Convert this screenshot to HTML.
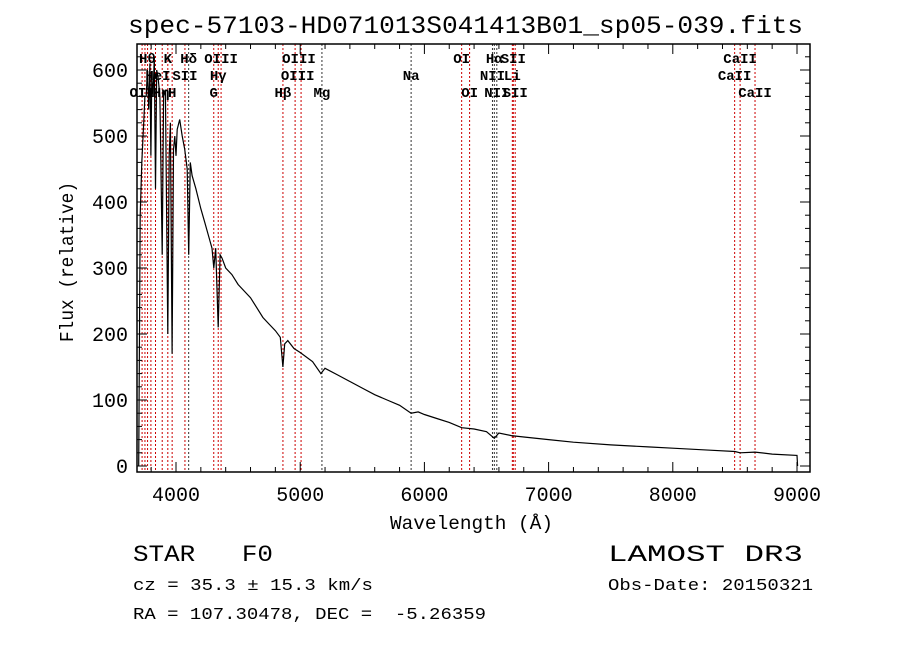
<!DOCTYPE html>
<html><head><meta charset="utf-8"><style>
body{margin:0;background:#fff;}
svg text{font-family:"Liberation Mono",monospace;white-space:pre;}
</style></head><body>
<svg id="c" width="900" height="649" xmlns="http://www.w3.org/2000/svg">
<rect width="900" height="649" fill="#fff"/>
<text x="128" y="33" font-size="25" textLength="675" lengthAdjust="spacingAndGlyphs">spec-57103-HD071013S041413B01_sp05-039.fits</text>
<g id="lines"></g>
<g id="axes"></g>
<path id="spec" fill="none" stroke="#000" stroke-width="1.2"/>
<text x="390" y="529" font-size="19" textLength="163" lengthAdjust="spacingAndGlyphs">Wavelength (Å)</text>
<text transform="translate(73,342) rotate(-90)" font-size="19" textLength="160" lengthAdjust="spacingAndGlyphs">Flux (relative)</text>
<text x="133" y="561" font-size="23" textLength="140" lengthAdjust="spacingAndGlyphs">STAR   F0</text>
<text x="608" y="561" font-size="23" textLength="195" lengthAdjust="spacingAndGlyphs">LAMOST DR3</text>
<text x="133" y="590" font-size="17" textLength="240" lengthAdjust="spacingAndGlyphs">cz = 35.3 ± 15.3 km/s</text>
<text x="608" y="590" font-size="17" textLength="205" lengthAdjust="spacingAndGlyphs">Obs-Date: 20150321</text>
<text x="133" y="619" font-size="17" textLength="353" lengthAdjust="spacingAndGlyphs">RA = 107.30478, DEC =  -5.26359</text>
</svg>
<script>
const waves=[3700,3712,3725,3740,3750,3760,3770,3780,3790,3798,3805,3815,3825,3835,3845,3855,3870,3889,3900,3915,3934,3945,3955,3969,3980,3990,4000,4010,4030,4050,4070,4090,4102,4115,4130,4160,4200,4230,4260,4290,4304,4320,4340,4355,4370,4400,4450,4500,4550,4600,4650,4700,4750,4800,4840,4861,4875,4900,4950,5000,5100,5167,5200,5300,5400,5500,5600,5700,5800,5893,5950,6000,6100,6200,6300,6400,6500,6563,6600,6700,6800,7000,7200,7500,7800,8000,8300,8500,8542,8662,8800,9000,9005];
const flux=[0,380,460,520,560,560,600,540,610,470,590,560,620,420,600,590,560,320,560,570,200,470,520,170,480,500,470,510,525,500,480,450,320,460,440,420,390,370,350,330,300,330,210,320,315,300,290,275,265,255,240,225,215,205,195,150,185,190,178,172,158,140,148,138,128,118,108,100,92,80,82,78,72,66,58,56,52,42,50,46,44,40,36,32,29,27,24,22,20,21,18,16,0];
const lineWaves=[3727,3750,3771,3798,3835,3889,3934,3969,4072,4102,4304,4340,4363,4861,4959,5007,5175,5893,6300,6364,6548,6563,6583,6708,6716,6731,8498,8542,8662];
const lineLabels=[["OII",92,3727],["Hθ",58,3770],["HeI",75,3855],["K",58,3934],["Hη",92,3880],["SII",75,4072],["H",92,3969],["Hδ",58,4102],["OIII",58,4363],["Hγ",75,4340],["G",92,4304],["OIII",58,4990],["OIII",75,4980],["Hβ",92,4861],["Mg",92,5175],["Na",75,5893],["OI",58,6300],["OI",92,6364],["Hα",58,6563],["SII",58,6716],["NII",75,6548],["Li",75,6708],["NII",92,6583],["SII",92,6731],["CaII",58,8542],["CaII",75,8498],["CaII",92,8662]];
const xTicks=[4000,5000,6000,7000,8000,9000];
const yTicks=[0,100,200,300,400,500,600];
const X0=137,X1=810,Y0=44,Y1=472;
const sx=w=>176+(w-4000)*0.1242;
const sy=f=>466-f*0.66;
const NS="http://www.w3.org/2000/svg";
function mk(t,a,p){const e=document.createElementNS(NS,t);for(const k in a)e.setAttribute(k,a[k]);p.appendChild(e);return e;}
const L=document.getElementById('lines'),A=document.getElementById('axes');
lineWaves.forEach(w=>{const e=mk('line',{x1:sx(w),x2:sx(w),y1:Y0,y2:Y1,stroke:(w==5893||w==5175||w==4102||(w>6540&&w<6590))?'#333':'#c00',"stroke-width":1,"stroke-dasharray":"2,2"},L);

});
lineLabels.forEach(l=>{const t=mk('text',{x:sx(l[2]),y:l[1]+5,"font-size":14,"font-weight":"bold","text-anchor":"middle","font-family":"Liberation Serif, serif"},L);t.textContent=l[0];

});
const fr=mk('rect',{x:X0,y:Y0,width:X1-X0,height:Y1-Y0,fill:'none',stroke:'#000','stroke-width':1.5},A);


for(let w=3800;w<=9100;w+=200){const big=w%1000==0;const h=big?10:5;
mk('line',{x1:sx(w),x2:sx(w),y1:Y1,y2:Y1-h,stroke:'#000'},A);mk('line',{x1:sx(w),x2:sx(w),y1:Y0,y2:Y0+h,stroke:'#000'},A);}
for(let f=0;f<=630;f+=20){const big=f%100==0;const h=big?10:5;
mk('line',{x1:X0,x2:X0+h,y1:sy(f),y2:sy(f),stroke:'#000'},A);mk('line',{x1:X1,x2:X1-h,y1:sy(f),y2:sy(f),stroke:'#000'},A);}
xTicks.forEach(w=>{const t=mk('text',{x:sx(w),y:501,"font-size":20,"text-anchor":"middle","font-family":"Liberation Sans, sans-serif"},A);t.textContent=w;

});
yTicks.forEach(f=>{const t=mk('text',{x:128,y:sy(f)+7,"font-size":20,"text-anchor":"end","font-family":"Liberation Sans, sans-serif"},A);t.textContent=f;

});
document.getElementById('spec').setAttribute('d',waves.map((w,i)=>(i?'L':'M')+sx(w).toFixed(1)+','+sy(flux[i]).toFixed(1)).join(''));
</script>
</body></html>
